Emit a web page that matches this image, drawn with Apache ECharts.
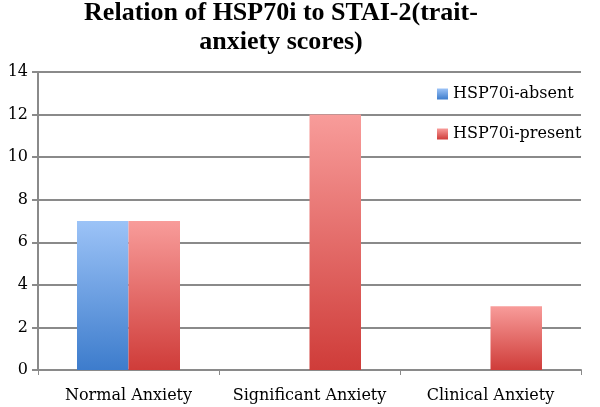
<!DOCTYPE html>
<html>
<head>
<meta charset="utf-8">
<script src="https://cdn.jsdelivr.net/npm/echarts@6/dist/echarts.min.js"></script>
<style>html,body{margin:0;padding:0;background:#fff}#c{width:600px;height:407px}</style>
</head>
<body>
<div id="c"></div>
<script>
const titleLines = ["Relation of HSP70i to STAI-2(trait-", "anxiety scores)"];
const categories = ["Normal Anxiety", "Significant Anxiety", "Clinical Anxiety"];
const seriesNames = ["HSP70i-absent", "HSP70i-present"];
const absentValues = [7, 0, 0];
const presentValues = [7, 12, 3];
const yTicks = {min: 0, max: 14, interval: 2};

const serif = "'DejaVu Serif', serif";
function grad(top, bottom) {
  return new echarts.graphic.LinearGradient(0, 0, 0, 1, [
    {offset: 0, color: top}, {offset: 1, color: bottom}
  ]);
}
const blue = grad('#9cc3f7', '#3d7ccc');
const red = grad('#f89c9a', '#cf3c39');

const chart = echarts.init(document.getElementById('c'), null, {renderer: 'canvas'});
chart.setOption({
  animation: false,
  backgroundColor: '#fff',
  graphic: [{
    type: 'text', x: 281, y: -1,
    style: {
      text: titleLines.join('\n'),
      textAlign: 'center',
      font: "bold 26px 'Liberation Serif', serif",
      lineHeight: 29,
      fill: '#000'
    }
  }],
  legend: {
    orient: 'vertical',
    left: 432, top: 81,
    itemWidth: 11, itemHeight: 11,
    itemGap: 24,
    icon: 'rect',
    textStyle: {fontFamily: serif, fontSize: 16, color: '#000', padding: [0, 0, 0, 0]},
    data: seriesNames
  },
  grid: {left: 38, right: 19, top: 72, bottom: 37, containLabel: false},
  xAxis: {
    type: 'category',
    data: categories,
    axisLine: {lineStyle: {color: '#8a8a8a', width: 2}},
    axisTick: {show: true, length: 5, lineStyle: {color: '#8a8a8a', width: 1}},
    axisLabel: {fontFamily: serif, fontSize: 16, color: '#000', margin: 18, interval: 0, hideOverlap: false}
  },
  yAxis: {
    type: 'value',
    min: yTicks.min, max: yTicks.max, interval: yTicks.interval,
    axisLine: {show: true, lineStyle: {color: '#8a8a8a', width: 2}},
    axisTick: {show: true, length: 6, lineStyle: {color: '#8a8a8a', width: 2}},
    splitLine: {lineStyle: {color: '#8a8a8a', width: 2}},
    axisLabel: {fontFamily: serif, fontSize: 16, color: '#000', margin: 10}
  },
  series: [
    {name: seriesNames[0], type: 'bar', data: absentValues, barWidth: 51.5, barGap: '0%',
     itemStyle: {color: blue}},
    {name: seriesNames[1], type: 'bar', data: presentValues, barWidth: 51.5, barGap: '0%',
     itemStyle: {color: red}}
  ]
});
</script>
</body>
</html>
